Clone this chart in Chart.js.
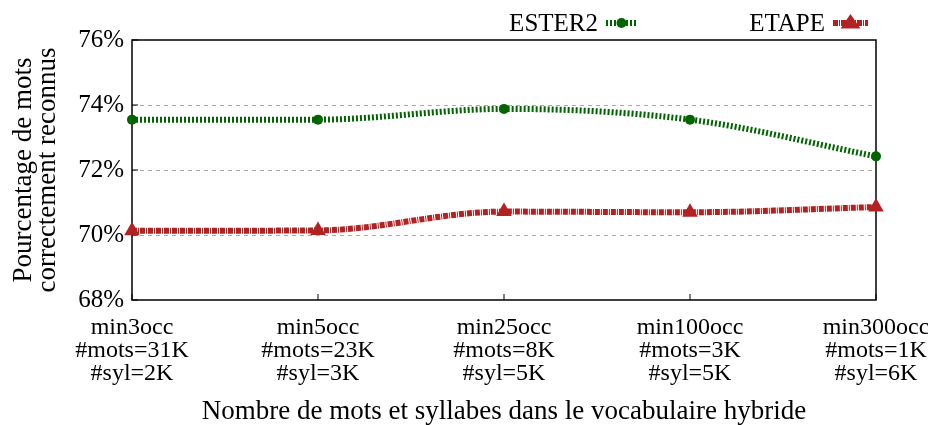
<!DOCTYPE html>
<html>
<head>
<meta charset="utf-8">
<script src="https://cdn.jsdelivr.net/npm/chart.js@4"></script>
<style>
  body { margin: 0; background: #fff; }
  canvas { display: block; }
</style>
</head>
<body>
<canvas id="chart" width="928" height="425"></canvas>
<script>
const categories = [
  ['min3occ', '#mots=31K', '#syl=2K'],
  ['min5occ', '#mots=23K', '#syl=3K'],
  ['min25occ', '#mots=8K', '#syl=5K'],
  ['min100occ', '#mots=3K', '#syl=5K'],
  ['min300occ', '#mots=1K', '#syl=6K']
];
const ester2 = [73.55, 73.55, 73.88, 73.55, 72.42];
const etape = [70.13, 70.14, 70.72, 70.70, 70.86];
const yMin = 68;
const yMax = 76;
const yStep = 2;

const serif = '"Liberation Serif", "DejaVu Serif", serif';

// frame, tick marks and the gnuplot-like legend (text then line sample)
const framePlugin = {
  id: 'frame',
  beforeDatasetsDraw(chart) {
    const { ctx, chartArea: a, scales } = chart;
    ctx.save();
    ctx.strokeStyle = '#000';
    ctx.lineWidth = 1.5;
    ctx.setLineDash([]);
    ctx.strokeRect(a.left, a.top, a.right - a.left, a.bottom - a.top);
    ctx.lineWidth = 1;
    scales.y.ticks.forEach(t => {
      const y = scales.y.getPixelForValue(t.value);
      ctx.beginPath();
      ctx.moveTo(a.left, y);
      ctx.lineTo(a.left + 6, y);
      ctx.stroke();
    });
    categories.forEach((c, i) => {
      const x = scales.x.getPixelForValue(i);
      ctx.beginPath();
      ctx.moveTo(x, a.bottom);
      ctx.lineTo(x, a.bottom - 6);
      ctx.stroke();
    });
    ctx.restore();
  },
  afterDraw(chart) {
    const { ctx } = chart;
    const items = [
      { ds: chart.data.datasets[0], textRight: 598, x0: 606, x1: 637, y: 23 },
      { ds: chart.data.datasets[1], textRight: 825, x0: 833, x1: 868, y: 23 }
    ];
    ctx.save();
    items.forEach(it => {
      ctx.font = '25px ' + serif;
      ctx.fillStyle = '#000';
      ctx.textAlign = 'right';
      ctx.textBaseline = 'middle';
      ctx.fillText(it.ds.label, it.textRight, it.y + 1);
      ctx.strokeStyle = it.ds.borderColor;
      ctx.lineWidth = it.ds.borderWidth;
      ctx.setLineDash(it.ds.borderDash);
      ctx.beginPath();
      ctx.moveTo(it.x0, it.y);
      ctx.lineTo(it.x1, it.y);
      ctx.stroke();
      ctx.setLineDash([]);
      ctx.fillStyle = it.ds.borderColor;
      const cx = (it.x0 + it.x1) / 2;
      const r = it.ds.pointRadius;
      ctx.beginPath();
      if (it.ds.pointStyle === 'triangle') {
        ctx.moveTo(cx, it.y - r);
        ctx.lineTo(cx + r * 1.1, it.y + r * 0.6);
        ctx.lineTo(cx - r * 1.1, it.y + r * 0.6);
        ctx.closePath();
      } else {
        ctx.arc(cx, it.y, r, 0, Math.PI * 2);
      }
      ctx.fill();
    });
    ctx.restore();
  }
};

new Chart(document.getElementById('chart').getContext('2d'), {
  type: 'line',
  data: {
    labels: categories,
    datasets: [
      {
        label: 'ESTER2',
        data: ester2,
        borderColor: '#006400',
        backgroundColor: '#006400',
        borderWidth: 6,
        borderDash: [2, 2],
        borderCapStyle: 'butt',
        pointStyle: 'circle',
        pointRadius: 5,
        pointBorderWidth: 0,
        cubicInterpolationMode: 'monotone',
        clip: false
      },
      {
        label: 'ETAPE',
        data: etape,
        borderColor: '#b22222',
        backgroundColor: '#b22222',
        borderWidth: 6,
        borderDash: [5, 1, 1, 1],
        borderCapStyle: 'butt',
        pointStyle: 'triangle',
        pointRadius: 9,
        pointBorderWidth: 0,
        cubicInterpolationMode: 'monotone',
        clip: false
      }
    ]
  },
  options: {
    responsive: false,
    animation: false,
    devicePixelRatio: 1,
    layout: { padding: { top: 40, right: 52, left: 0, bottom: 0 } },
    plugins: {
      legend: { display: false },
      tooltip: { enabled: false }
    },
    scales: {
      x: {
        type: 'category',
        offset: false,
        grid: { display: false },
        border: { display: false },
        ticks: {
          color: '#000',
          font: { family: serif, size: 24, lineHeight: 0.96 },
          padding: 8,
          maxRotation: 0,
          autoSkip: false
        },
        title: {
          display: true,
          text: 'Nombre de mots et syllabes dans le vocabulaire hybride',
          color: '#000',
          font: { family: serif, size: 27, lineHeight: 1.0 },
          padding: { top: 0, bottom: 0 }
        },
        afterFit(s) {
          s.height = 125;
          s.paddingLeft = 0;
          s.paddingRight = 0;
        }
      },
      y: {
        min: yMin,
        max: yMax,
        border: { display: false, dash: [4, 4] },
        grid: {
          drawTicks: false,
          lineWidth: 1,
          color: ctx => (ctx.tick && (ctx.tick.value === yMin || ctx.tick.value === yMax)) ? 'rgba(0,0,0,0)' : '#aaaaaa'
        },
        ticks: {
          stepSize: yStep,
          color: '#000',
          padding: 8,
          font: { family: serif, size: 25 },
          callback: v => v + '%'
        },
        title: {
          display: true,
          text: ['Pourcentage de mots', 'correctement reconnus'],
          color: '#000',
          font: { family: serif, size: 27, lineHeight: '24px' },
          padding: { top: 12, bottom: 0 }
        },
        afterFit(s) {
          s.width = 132;
        }
      }
    }
  },
  plugins: [framePlugin]
});
</script>
</body>
</html>
